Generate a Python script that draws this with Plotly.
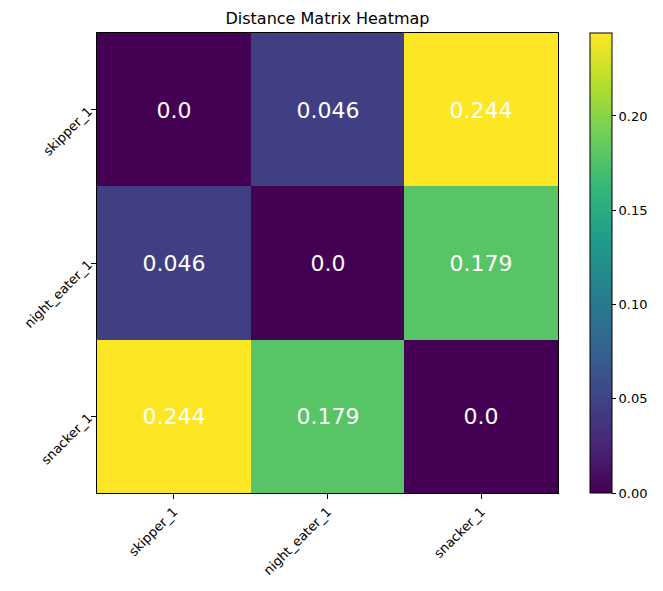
'''Distance matrix heatmap between eating-pattern profiles.'''
import plotly.graph_objects as go

labels = ['skipper_1', 'night_eater_1', 'snacker_1']
distances = [
    [0.0, 0.046, 0.244],
    [0.046, 0.0, 0.179],
    [0.244, 0.179, 0.0],
]
cbar_ticks = [0.0, 0.05, 0.10, 0.15, 0.20]

FONT = 'DejaVu Sans'

# the page body has an 8px margin, so offset the margins to compensate
fig = go.Figure(
    data=[
        go.Heatmap(
            z=distances,
            x=labels,
            y=labels,
            colorscale='Viridis',
            zmin=0,
            zmax=max(max(r) for r in distances),
            text=[[str(v) for v in row] for row in distances],
            texttemplate='%{text}',
            textfont={'size': 22, 'color': 'white', 'family': FONT},
            colorbar={
                'x': 1.069,
                'xanchor': 'left',
                'xpad': 0,
                'y': 0.5,
                'yanchor': 'middle',
                'ypad': 0,
                'len': 1,
                'lenmode': 'fraction',
                'thickness': 22,
                'outlinewidth': 1,
                'outlinecolor': 'black',
                'tickvals': cbar_ticks,
                'tickformat': '.2f',
                'ticks': 'outside',
                'ticklen': 4,
                'tickcolor': 'black',
                'tickfont': {'size': 13, 'color': 'black', 'family': FONT},
            },
        )
    ],
    layout={
        'width': 663,
        'height': 591,
        'margin': {'l': 89, 'r': 113, 't': 25, 'b': 106, 'autoexpand': False},
        'paper_bgcolor': 'white',
        'plot_bgcolor': 'white',
        'font': {'family': FONT, 'color': 'black'},
        'title': {
            'text': 'Distance Matrix Heatmap',
            'x': 0.5 * (89 + 550) / 663,
            'xanchor': 'center',
            'y': 1 - 10 / 591,
            'yanchor': 'middle',
            'font': {'size': 16, 'color': 'black', 'family': FONT},
        },
        'xaxis': {
            'tickangle': -45,
            'ticks': 'outside',
            'ticklen': 5,
            'tickcolor': 'black',
            'showline': True,
            'linecolor': 'black',
            'linewidth': 1,
            'mirror': True,
            'tickfont': {'size': 13, 'color': 'black', 'family': FONT},
        },
        'yaxis': {
            'autorange': 'reversed',
            'tickangle': -45,
            'ticks': 'outside',
            'ticklen': 5,
            'tickcolor': 'black',
            'showline': True,
            'linecolor': 'black',
            'linewidth': 1,
            'mirror': True,
            'tickfont': {'size': 13, 'color': 'black', 'family': FONT},
        },
    },
)

fig.write_html('out.html')
